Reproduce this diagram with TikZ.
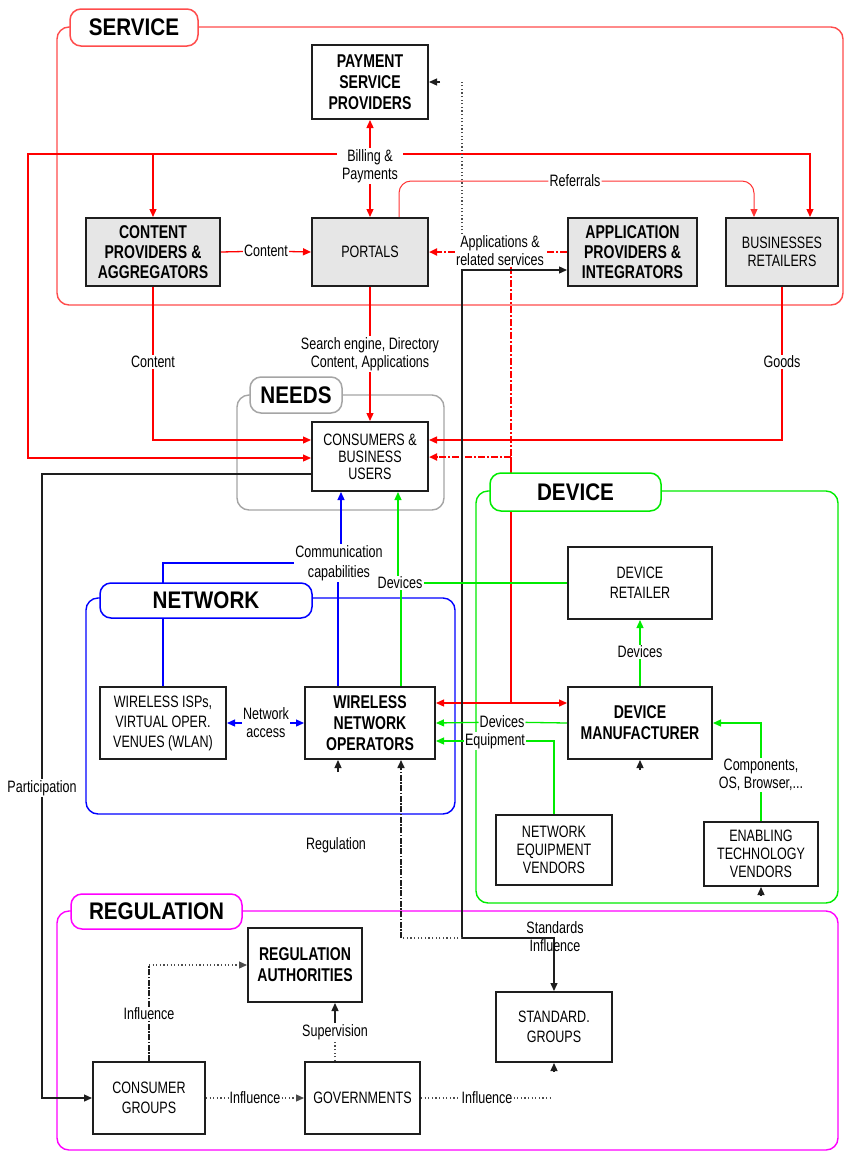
\documentclass[tikz,border=0pt]{standalone}
\usepackage{fontspec}
\setmainfont{Liberation Sans}[FakeStretch=0.76]
\newfontfamily\hdfont{Liberation Sans}[FakeStretch=0.86]
\usetikzlibrary{arrows.meta,calc}
\definecolor{rd}{RGB}{255,0,0}
\definecolor{gn}{RGB}{0,235,0}
\definecolor{bu}{RGB}{0,0,255}
\definecolor{mg}{RGB}{255,0,255}
\definecolor{bxgray}{RGB}{230,230,230}
\definecolor{ndgray}{RGB}{165,165,165}
\definecolor{bk}{RGB}{30,30,30}
\pgfdeclarelayer{bg}
\pgfdeclarelayer{mid}
\pgfsetlayers{bg,mid,main}
\begin{document}
\begin{tikzpicture}[x=1pt,y=-1pt,
  >={Triangle[length=8pt,width=7pt]},
  box/.style={draw=bk, line width=2pt, fill=white, align=center, inner sep=1pt, font=\fontsize{16.5}{18}\selectfont},
  gbox/.style={box, fill=bxgray},
  bbox/.style={font=\fontsize{18.5}{21}\selectfont\bfseries},
  lab/.style={fill=white, inner sep=1pt, align=center, font=\fontsize{16.5}{18}\selectfont},
  hdr/.style={draw, line width=1.5pt, rounded corners=11pt, fill=white, inner sep=0pt, font=\hdfont\bfseries\fontsize{24}{26}\selectfont},
  rl/.style={draw=rd, line width=1.3pt},
  rlt/.style={draw=rd!80, line width=1pt},
  rdash/.style={draw=rd, line width=2pt, dash pattern=on 7pt off 2pt on 2pt off 2pt},
  gl/.style={draw=gn, line width=1.3pt},
  bl/.style={draw=bu, line width=1.3pt},
  kl/.style={draw=bk, line width=1.3pt},
  dl/.style={draw=black!70, line width=1.2pt, dash pattern=on 1.2pt off 2.4pt},
  dd/.style={draw=bk, line width=1.6pt, dash pattern=on 6pt off 1.5pt on 1.5pt off 1.5pt},
  frm/.style={line width=1.4pt, rounded corners=12pt}
]
\useasboundingbox (0,0) rectangle (844,1152);

% ---------- frames ----------
\begin{pgfonlayer}{bg}
\draw[frm, draw=rd!70] (57,27) rectangle (843,305);
\draw[frm, draw=ndgray] (237,395) rectangle (444,510);
\draw[frm, draw=bu] (86,598) rectangle (455,814);
\draw[frm, draw=gn] (476,491) rectangle (838,903);
\draw[frm, draw=mg] (57,911) rectangle (838,1150);
\end{pgfonlayer}

% ---------- header labels ----------
\node[hdr, draw=rd!70, minimum width=128pt, minimum height=37pt] (hS) at (134,27.5) {SERVICE};
\node[hdr, draw=ndgray, minimum width=92pt, minimum height=36pt] (hN) at (296,395) {NEEDS};
\node[hdr, draw=bu, minimum width=212pt, minimum height=35pt] (hW) at (206,600.5) {NETWORK};
\node[hdr, draw=gn, minimum width=171pt, minimum height=38pt] (hD) at (575.5,492) {DEVICE};
\node[hdr, draw=mg, minimum width=171pt, minimum height=35pt] (hR) at (156.5,911.5) {REGULATION};

% ---------- boxes ----------
\node[box,bbox,minimum width=116pt,minimum height=74pt] (PSP) at (370,82) {PAYMENT\\SERVICE\\PROVIDERS};
\node[gbox,bbox,minimum width=134pt,minimum height=68pt,font=\fontsize{18.5}{20}\selectfont\bfseries] (CP) at (153,252) {CONTENT\\PROVIDERS \&\\AGGREGATORS};
\node[gbox,minimum width=116pt,minimum height=68pt] (PORT) at (370,252) {PORTALS};
\node[gbox,bbox,minimum width=129pt,minimum height=68pt,font=\fontsize{18.5}{20}\selectfont\bfseries] (APP) at (632.5,252) {APPLICATION\\PROVIDERS \&\\INTEGRATORS};
\node[gbox,minimum width=112pt,minimum height=68pt] (BR) at (782,252) {BUSINESSES\\RETAILERS};
\node[box,minimum width=116pt,minimum height=69pt,font=\fontsize{16.5}{17}\selectfont] (CONS) at (370,456.5) {CONSUMERS \&\\BUSINESS\\USERS};
\node[box,minimum width=144pt,minimum height=72pt,font=\fontsize{16.5}{20}\selectfont] (DR) at (640,583) {DEVICE\\RETAILER};
\node[box,minimum width=126pt,minimum height=72pt,font=\fontsize{16.5}{20}\selectfont] (WISP) at (163,723) {WIRELESS ISPs,\\VIRTUAL OPER.\\VENUES (WLAN)};
\node[box,bbox,minimum width=130pt,minimum height=72pt] (WNO) at (370,723) {WIRELESS\\NETWORK\\OPERATORS};
\node[box,bbox,minimum width=144pt,minimum height=72pt] (DM) at (640,723) {DEVICE\\MANUFACTURER};
\node[box,minimum width=116pt,minimum height=70pt] (NEV) at (554,850) {NETWORK\\EQUIPMENT\\VENDORS};
\node[box,minimum width=114pt,minimum height=64pt] (ETV) at (761,854) {ENABLING\\TECHNOLOGY\\VENDORS};
\node[box,bbox,minimum width=114pt,minimum height=74pt] (RA) at (305,965) {REGULATION\\AUTHORITIES};
\node[box,minimum width=116pt,minimum height=70pt,font=\fontsize{16.5}{20}\selectfont] (SG) at (554,1027) {STANDARD.\\GROUPS};
\node[box,minimum width=112pt,minimum height=72pt,font=\fontsize{16.5}{20}\selectfont] (CG) at (149,1098) {CONSUMER\\GROUPS};
\node[box,minimum width=115pt,minimum height=72pt] (GOV) at (362.5,1098) {GOVERNMENTS};

% ---------- edge labels ----------
\node[lab] (bill) at (370,166) {Billing \&\\Payments};
\node[lab] (cont1) at (266,251) {Content};
\node[lab] (ref) at (575,181) {Referrals};
\node[lab] (apps) at (500,251) {Applications \&\\related services};
\node[lab] (cont2) at (153,362) {Content};
\node[lab] (srch) at (370,354) {Search engine, Directory\\Content, Applications};
\node[lab] (goods) at (782,362) {Goods};
\node[lab] (part) at (42,788) {Participation};
\node[lab,font=\fontsize{16.5}{20}\selectfont] (comm) at (339,563) {Communication\\capabilities};
\node[lab] (dev1) at (400,583) {Devices};
\node[lab] (na) at (266,723) {Network\\access};
\node[lab] (dev2) at (640,652) {Devices};
\node[lab] (dev3) at (502,722) {Devices};
\node[lab] (eq) at (495,741) {Equipment};
\node[lab] (comp) at (761,775) {Components,\\OS, Browser,...};
\node[lab] (regl) at (336,845) {Regulation};
\node[lab,fill=none] (std) at (555,937) {Standards\\Influence};
\node[lab] (inf1) at (149,1014) {Influence};
\node[lab] (sup) at (335,1032) {Supervision};
\node[lab] (inf2) at (255,1098) {Influence};
\node[lab] (inf3) at (487,1098) {Influence};

% ---------- named coordinates ----------
\coordinate (bl) at (337,154);
\coordinate (br) at (403,154);
\coordinate (lx) at (28,154);
\coordinate (cbl) at ([yshift=-1.5pt]CONS.west);
\coordinate (ccl) at ([yshift=16.5pt]CONS.west);
\coordinate (ccr) at ([yshift=16.5pt]CONS.east);
\coordinate (cbk) at ([yshift=-17.5pt]CONS.west);
\coordinate (brn) at ([xshift=28pt]BR.north);
\coordinate (brr) at ([xshift=-28pt]BR.north);
\coordinate (ptr) at ([xshift=29pt]PORT.north);
\coordinate (rj) at (511,457);
\coordinate (rdj) at (511,703);
\coordinate (wr) at ([yshift=20pt]WNO.east);
\coordinate (dml) at ([yshift=20pt]DM.west);
\coordinate (ape) at ([yshift=-18pt]APP.west);
\coordinate (sj) at (462,938);
\coordinate (rg) at (401,938);
\coordinate (wnb) at ([xshift=31pt]WNO.south);
\coordinate (wnb2) at ([xshift=-32pt]WNO.south);
\coordinate (wnt1) at ([xshift=-32pt]WNO.north);
\coordinate (wnt2) at ([xshift=31pt]WNO.north);
\coordinate (cs1) at ([xshift=-29pt]CONS.south);
\coordinate (cs2) at ([xshift=28pt]CONS.south);
\coordinate (weq) at ([yshift=-18pt]WNO.east);
\coordinate (pd) at (462,234);
\coordinate (ie) at (553,1098);
\coordinate (gvn) at ([xshift=-27.5pt]GOV.north);
\coordinate (ras) at ([xshift=30pt]RA.south);

\begin{pgfonlayer}{mid}
% red: billing & payments
\draw[rl,->] (bill.north) -- (PSP.south);
\draw[rl,->] (bill.south) -- (PORT.north);
\draw[rl,->] (bl) -- (lx) |- (cbl);
\draw[rl,->] (CP.north |- bl) -- (CP.north);
\draw[rl,->] (br) -| (brn);
% content
\draw[rl] (CP.east) -- (cont1);
\draw[rl,->] (cont1) -- (PORT.west);
\draw[rl] (CP.south) -- (cont2);
\draw[rl,->] (cont2) |- (ccl);
% referrals
\draw[rlt,rounded corners=12pt] (ptr) |- (ref);
\draw[rlt,->,rounded corners=12pt] (ref) -| (brr);
% search
\draw[rl] (PORT.south) -- (srch);
\draw[rl,->] (srch) -- (CONS.north);
% goods
\draw[rl] (BR.south) -- (goods);
\draw[rl,->] (goods) |- (ccr);
% applications
\draw[rdash] (APP.west) -- (apps.east |- APP.west);
\draw[rdash,->] (apps.west |- PORT.east) -- (PORT.east);
\draw[rdash] (rj |- apps.south) -- (rj);
\draw[rdash,->] (rj) -- (CONS.east |- rj);
\draw[rl] (rj) -- (rdj);
\draw[rl,<->] (wr) -- (dml);
% black
\draw[kl] (cbk) -| (part);
\draw[kl,->] (part) |- (CG.west);
\draw[kl,->] (sj) |- (ape);
\draw[kl,->] (sj) -| (SG.north);
\draw[dl] (sj) -- (rg);
\draw[dd,->] (rg) -- (wnb);
\draw[dl] (pd) -- (pd |- PSP.east);
\draw[kl,->] ([xshift=11pt]PSP.east) -- (PSP.east);
\draw[kl,->] ([yshift=-12pt]wnb2) -- (wnb2);
\draw[kl,->] ([yshift=-10pt]DM.south) -- (DM.south);
\draw[kl,->] ([yshift=-8pt]ETV.south) -- (ETV.south);
\draw[kl,->] ([yshift=-9pt]SG.south) -- (SG.south);
% regulation influence
\draw[dd] (CG.north) -- (inf1);
\draw[dd] (inf1) -- (inf1 |- RA.west);
\draw[dl,->] (inf1 |- RA.west) -- (RA.west);
\draw[dl] (CG.east) -- (inf2);
\draw[dl,->] (inf2) -- (GOV.west);
\draw[dl] (GOV.east) -- (inf3);
\draw[dl] (inf3) -- (ie);
\draw[dl] (gvn) -- (sup);
\draw[kl,->] (sup) -- (ras);
% blue
\draw[bl,->] (comm.north -| cs1) -- (cs1);
\draw[bl] (comm.south -| wnt1) -- (wnt1);
\draw[bl] (comm.west) -| (WISP.north);
\draw[bl,->] (na) -- (WISP.east);
\draw[bl,->] (na) -- (WNO.west);
% green
\draw[gl,->] (dev1.north -| cs2) -- (cs2);
\draw[gl] (dev1.east) -- (DR.west);
\draw[gl] (dev1.south -| wnt2) -- (wnt2);
\draw[gl] (DM.north) -- (dev2);
\draw[gl,->] (dev2) -- (DR.south);
\draw[gl] (DM.west) -- (dev3);
\draw[gl,->] (dev3) -- (WNO.east);
\draw[gl] (NEV.north) |- (eq);
\draw[gl,->] (eq) -- (weq);
\draw[gl] (ETV.north) -- (comp);
\draw[gl,->] (comp) |- (DM.east);
\end{pgfonlayer}
\end{tikzpicture}
\end{document}
